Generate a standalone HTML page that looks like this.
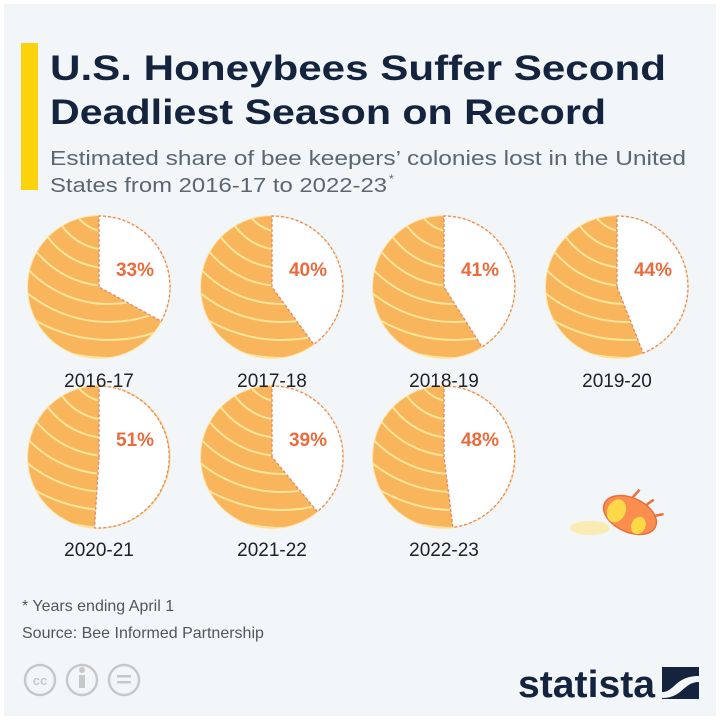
<!DOCTYPE html>
<html><head><meta charset="utf-8"><style>
html,body{margin:0;padding:0;background:#fff}
svg{display:block}
text{font-family:"Liberation Sans",sans-serif}
</style></head><body>
<svg width="720" height="720" viewBox="0 0 720 720">
<defs>
<clipPath id="c"><circle cx="0" cy="0" r="71"/></clipPath>
<g id="disc">
<circle cx="0" cy="0" r="72" fill="#fde7a8"/>
<circle cx="0" cy="0" r="71" fill="#f9b55c"/>
<g clip-path="url(#c)" fill="none" stroke="#fde59a" stroke-width="2">
<circle cx="10" cy="-95" r="40"/><circle cx="10" cy="-95" r="58"/><circle cx="10" cy="-95" r="76"/>
<circle cx="10" cy="-95" r="94"/><circle cx="10" cy="-95" r="112"/><circle cx="10" cy="-95" r="130"/>
<circle cx="10" cy="-95" r="148"/><circle cx="10" cy="-95" r="166"/><circle cx="10" cy="-95" r="184"/>
</g>
</g>
</defs>
<rect x="0" y="0" width="720" height="720" fill="#ffffff"/>
<rect x="4" y="4" width="712" height="712" fill="#f3f6f9"/>
<rect x="21" y="43" width="17" height="147" fill="#fcd20c"/>
<text x="50" y="80" font-size="35" font-weight="bold" fill="#14233e" textLength="616" lengthAdjust="spacingAndGlyphs">U.S. Honeybees Suffer Second</text>
<text x="50" y="124" font-size="35" font-weight="bold" fill="#14233e" textLength="556" lengthAdjust="spacingAndGlyphs">Deadliest Season on Record</text>
<text x="50" y="165" font-size="20" fill="#5c6670" textLength="636" lengthAdjust="spacingAndGlyphs">Estimated share of bee keepers’ colonies lost in the United</text>
<text x="50" y="192" font-size="20" fill="#5c6670" textLength="337" lengthAdjust="spacingAndGlyphs">States from 2016-17 to 2022-23</text>
<text x="389" y="183" font-size="12" fill="#5c6670">*</text>

<g>
<g transform="translate(99,287)"><use href="#disc"/></g>
<g transform="translate(272,287)"><use href="#disc"/></g>
<g transform="translate(444,287)"><use href="#disc"/></g>
<g transform="translate(617,287)"><use href="#disc"/></g>
<g transform="translate(99,457)"><use href="#disc"/></g>
<g transform="translate(272,457)"><use href="#disc"/></g>
<g transform="translate(444,457)"><use href="#disc"/></g>
</g>
<g fill="#fff" stroke="#e08a6a" stroke-width="1.3" stroke-dasharray="3,2">
<path transform="translate(99,287)" d="M0,0 L0,-71 A71,71 0 0 1 62.2,34.2 Z"/>
<path transform="translate(272,287)" d="M0,0 L0,-71 A71,71 0 0 1 41.7,57.4 Z"/>
<path transform="translate(444,287)" d="M0,0 L0,-71 A71,71 0 0 1 38,59.9 Z"/>
<path transform="translate(617,287)" d="M0,0 L0,-71 A71,71 0 0 1 26.1,66 Z"/>
<path transform="translate(99,457)" d="M0,0 L0,-71 A71,71 0 1 1 -4.5,70.9 Z"/>
<path transform="translate(272,457)" d="M0,0 L0,-71 A71,71 0 0 1 45.3,54.7 Z"/>
<path transform="translate(444,457)" d="M0,0 L0,-71 A71,71 0 0 1 8.9,70.4 Z"/>
</g>
<g font-size="19" font-weight="bold" fill="#ec6b3c" text-anchor="middle">
<text x="135" y="276">33%</text><text x="308" y="276">40%</text><text x="480" y="276">41%</text><text x="653" y="276">44%</text>
<text x="135" y="446">51%</text><text x="308" y="446">39%</text><text x="480" y="446">48%</text>
</g>
<g font-size="19" fill="#222" text-anchor="middle">
<text x="99" y="387">2016-17</text><text x="272" y="387">2017-18</text><text x="444" y="387">2018-19</text><text x="617" y="387">2019-20</text>
<text x="99" y="556">2020-21</text><text x="272" y="556">2021-22</text><text x="444" y="556">2022-23</text>
</g>
<!-- bee -->
<ellipse cx="590" cy="528" rx="20" ry="7" fill="#fbe8a0" opacity="0.8"/>
<g transform="translate(630,515) rotate(25)">
<ellipse cx="0" cy="0" rx="28" ry="17" fill="#f98e4e" stroke="#e8703a" stroke-width="1.5"/>
<ellipse cx="-14" cy="2" rx="9" ry="12" fill="#fdd94a"/>
<ellipse cx="12" cy="6" rx="7" ry="9" fill="#fdd94a"/>
<path d="M-5,-17 l3,-10 M10,-15 l5,-9 M22,-9 l8,-6" stroke="#e8703a" stroke-width="2.5" fill="none"/>
</g>
<g font-size="16" fill="#555">
<text x="22" y="611">* Years ending April 1</text>
<text x="22" y="638">Source: Bee Informed Partnership</text>
</g>
<g fill="none" stroke="#c8c8c8" stroke-width="2.5">
<circle cx="40" cy="680" r="15"/><circle cx="82" cy="680" r="15"/><circle cx="124" cy="680" r="15"/>
</g>
<text x="40" y="685" font-size="13" font-weight="bold" fill="#c8c8c8" text-anchor="middle">cc</text>
<rect x="79" y="675" width="6" height="13" fill="#c8c8c8"/><circle cx="82" cy="670" r="3" fill="#c8c8c8"/>
<rect x="117" y="675" width="14" height="2.5" fill="#c8c8c8"/><rect x="117" y="681" width="14" height="2.5" fill="#c8c8c8"/>
<text x="518" y="697" font-size="38" font-weight="bold" fill="#14233e" textLength="137" lengthAdjust="spacingAndGlyphs">statista</text>
<rect x="662" y="667" width="37" height="32" fill="#14233e"/>
<path d="M662,692 C675,692 675,676 699,676 L699,682 C683,682 683,698 662,698 Z" fill="#f3f6f9"/>
</svg>
</body></html>
